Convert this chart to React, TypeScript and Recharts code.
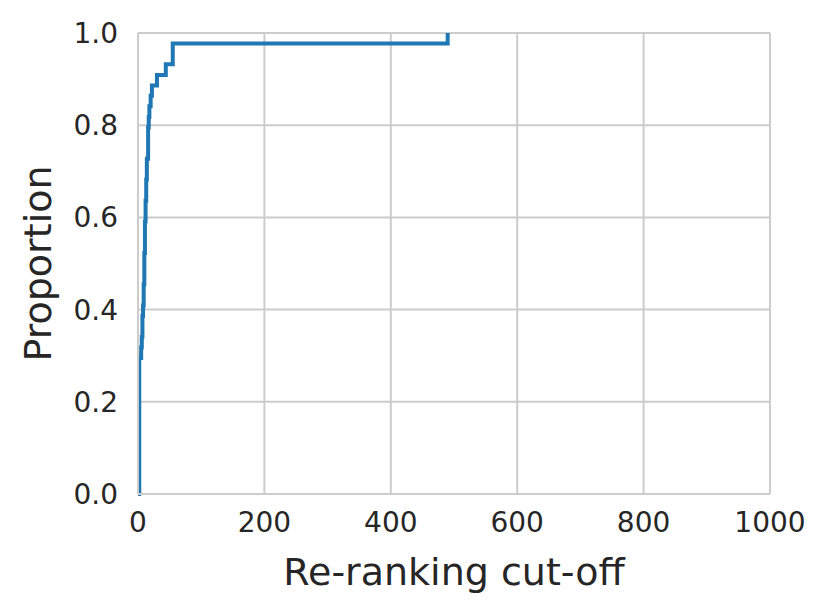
import { CartesianGrid, Line, LineChart, XAxis, YAxis } from "recharts";

// ECDF of re-ranking cut-off (step after each cut-off value)
const cutoffs = [0, 2, 5, 6, 7, 8, 9, 10, 11, 12, 13, 14, 16, 17, 18, 20, 22, 30, 44, 55, 490];
const proportions = [
  0, 0.295, 0.318, 0.341, 0.386, 0.409, 0.455, 0.523, 0.591, 0.636, 0.682, 0.727,
  0.795, 0.818, 0.841, 0.864, 0.886, 0.909, 0.932, 0.977, 1.0,
];
const xTicks = [0, 200, 400, 600, 800, 1000];
const yTicks = [0, 0.2, 0.4, 0.6, 0.8, 1.0];

const data = cutoffs.map((c, i) => ({ cutoff: c, proportion: proportions[i] }));

const FONT = "DejaVu Sans";
const TEXT = "#262626";
const GRID = "#cccccc";

export default function App() {
  return (
    <div style={{ position: "absolute", left: 0, top: 0, background: "#fff" }}>
      <LineChart
        width={829}
        height={614}
        data={data}
        margin={{ top: 33, right: 59, bottom: 0, left: 0 }}
      >
        <CartesianGrid stroke={GRID} strokeWidth={2} />
        <XAxis
          dataKey="cutoff"
          type="number"
          domain={[0, 1000]}
          ticks={xTicks}
          height={120}
          tickLine={false}
          tickSize={0}
          tickMargin={18}
          axisLine={{ stroke: GRID, strokeWidth: 2 }}
          tick={{ fill: TEXT, fontSize: 28, fontFamily: FONT }}
          label={{
            value: "Re-ranking cut-off",
            position: "insideBottom",
            offset: 29,
            fill: TEXT,
            fontSize: 38,
            fontFamily: FONT,
          }}
        />
        <YAxis
          type="number"
          domain={[0, 1]}
          ticks={yTicks}
          width={138}
          tickLine={false}
          tickSize={0}
          tickMargin={20}
          tickFormatter={(v: number) => v.toFixed(1)}
          axisLine={{ stroke: GRID, strokeWidth: 2 }}
          tick={{ fill: TEXT, fontSize: 28, fontFamily: FONT }}
          label={{
            value: "Proportion",
            angle: -90,
            position: "insideLeft",
            offset: 38,
            fill: TEXT,
            fontSize: 38,
            fontFamily: FONT,
            style: { textAnchor: "middle" },
          }}
        />
        <Line
          type="stepAfter"
          dataKey="proportion"
          stroke="#1f77b4"
          strokeWidth={4}
          dot={false}
          isAnimationActive={false}
        />
      </LineChart>
    </div>
  );
}
